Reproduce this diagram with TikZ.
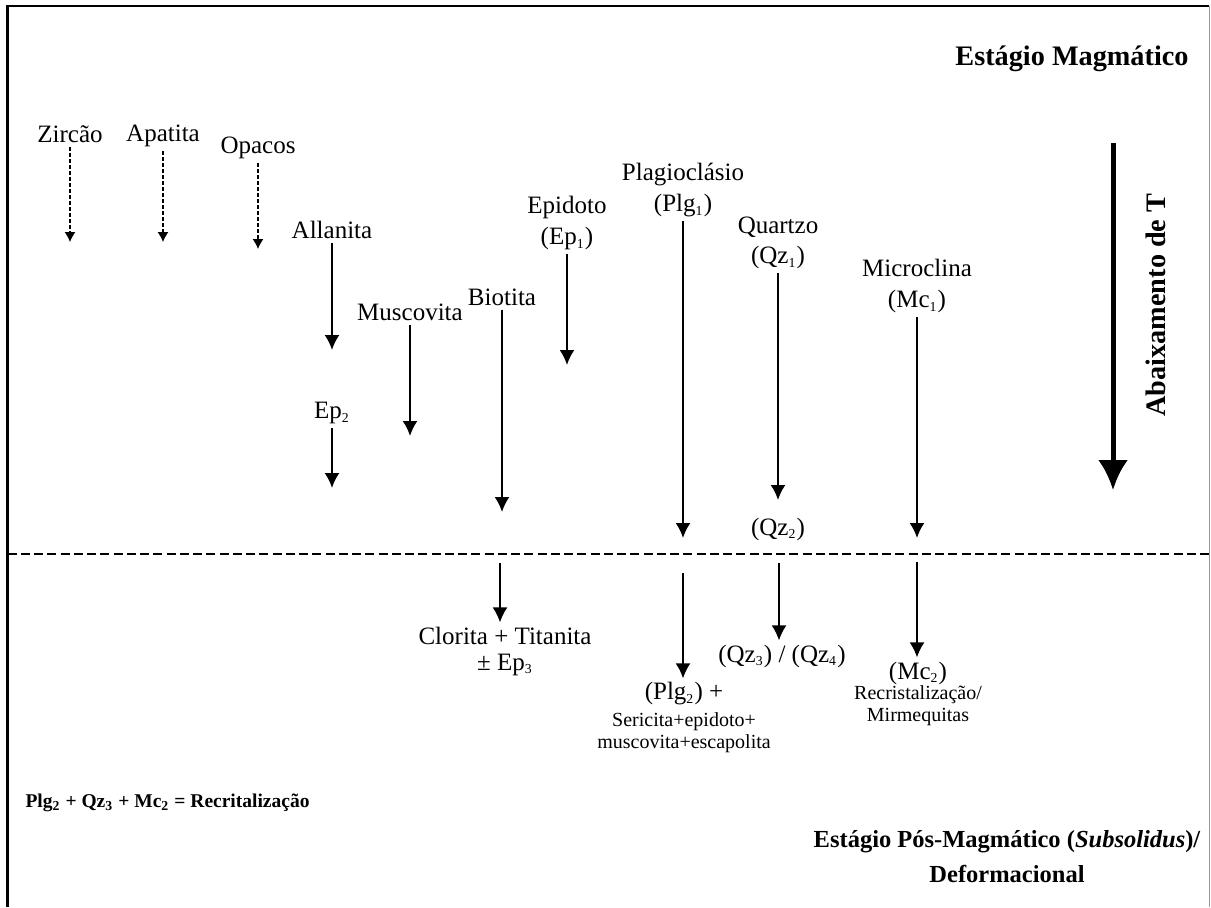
\documentclass[tikz,border=0pt]{standalone}
\usepackage{fontspec}
\setmainfont{Liberation Serif}
\usetikzlibrary{arrows.meta,positioning}
\newcommand{\indx}[1]{\textsubscript{\fontsize{5.5}{6}\selectfont #1}}

\begin{document}
\begin{tikzpicture}[x=0.4pt,y=-0.4pt]
\tikzstyle{mineral}=[font=\fontsize{10}{12.2}\selectfont, align=center, inner sep=1.5pt]
\tikzstyle{pequeno}=[font=\fontsize{8}{8.8}\selectfont, align=center, inner sep=1pt]
\tikzstyle{titulo}=[font=\bfseries\fontsize{11.3}{14}\selectfont, align=center, inner sep=0pt]
\tikzstyle{seta}=[-{Latex[width=6pt, length=6pt]}, line width=0.8pt]
\tikzstyle{tracejada}=[-{Latex[width=4.4pt, length=4pt]}, line width=0.5pt, dash pattern=on 1.6pt off 0.8pt]
\tikzstyle{grossa}=[-{Latex[width=12pt, length=12pt]}, line width=2pt]

  \useasboundingbox (0,0) rectangle (1211,907);

  % moldura
  \draw[line width=1pt] (7.5,907) -- (7.5,6) -- (1209,6);
  \draw[black!40, line width=0.4pt] (1209,6) -- (1209,907);
  \draw[line width=0.8pt, dash pattern=on 3.6pt off 1.7pt] (7.5,554) -- (1209,554);

  % estagio magmatico
  \node[titulo, anchor=east] (magmatico) at (1189,59) {Estágio Magmático};

  \node[mineral] (zircao)     at (70,134)  {Zircão};
  \node[mineral] (apatita)    at (163,136) {Apatita};
  \node[mineral] (opacos)     at (258,148) {Opacos};
  \node[mineral] (allanita)   at (332,230) {Allanita};
  \node[mineral] (ep2)        at (332,413) {Ep\indx{2}};
  \node[mineral] (muscovita)  at (410,312) {Muscovita};
  \node[mineral] (biotita)    at (502,297) {Biotita};
  \node[mineral] (epidoto)    at (567,223) {Epidoto\\(Ep\indx{1})};
  \node[mineral] (plagio)     at (683,190) {Plagioclásio\\(Plg\indx{1})};
  \node[mineral] (quartzo)    at (778,243) {Quartzo\\(Qz\indx{1})};
  \node[mineral] (microclina) at (917,286) {Microclina\\(Mc\indx{1})};
  \node[mineral] (qz2)        at (778,529) {(Qz\indx{2})};

  \coordinate (zircao-fim)     at (70,242);
  \coordinate (apatita-fim)    at (163,242);
  \coordinate (opacos-fim)     at (258,249);
  \coordinate (allanita-fim)   at (332,350);
  \coordinate (ep2-fim)        at (332,488);
  \coordinate (muscovita-fim)  at (410,436);
  \coordinate (biotita-fim)    at (502,512);
  \coordinate (epidoto-fim)    at (567,365);
  \coordinate (plagio-fim)     at (683,538);
  \coordinate (quartzo-fim)    at (778,500);
  \coordinate (microclina-fim) at (917,538);

  \draw[tracejada] (zircao)  -- (zircao-fim);
  \draw[tracejada] (apatita) -- (apatita-fim);
  \draw[tracejada] (opacos)  -- (opacos-fim);
  \draw[seta] (allanita)   -- (allanita-fim);
  \draw[seta] (ep2)        -- (ep2-fim);
  \draw[seta] (muscovita)  -- (muscovita-fim);
  \draw[seta] (biotita)    -- (biotita-fim);
  \draw[seta] (epidoto)    -- (epidoto-fim);
  \draw[seta] (plagio)     -- (plagio-fim);
  \draw[seta] (quartzo)    -- (quartzo-fim);
  \draw[seta] (microclina) -- (microclina-fim);

  % abaixamento de T
  \coordinate (t-inicio) at (1113,143);
  \coordinate (t-fim)    at (1113,490);
  \draw[grossa] (t-inicio) -- (t-fim);
  \node[titulo, rotate=90] (abaixamento) at (1156,305) {Abaixamento de T};

  % estagio pos-magmatico
  \node[mineral, font=\fontsize{10}{10.4}\selectfont] (clorita) at (505,651) {Clorita + Titanita\\± Ep\indx{3}};
  \node[mineral] (plg2)    at (684,694) {(Plg\indx{2}) +};
  \node[pequeno] (sericita) [below=0pt of plg2] {Sericita+epidoto+\\muscovita+escapolita};
  \node[mineral] (qz34)    at (782,656) {(Qz\indx{3}) / (Qz\indx{4})};
  \node[mineral] (mc2)     at (918,673) {(Mc\indx{2})};
  \node[pequeno] (recrist) [below=-2.5pt of mc2] {Recristalização/\\Mirmequitas};

  \coordinate (biotita-b)    at (500,563);
  \coordinate (plagio-b)     at (683,573);
  \coordinate (quartzo-b)    at (779,563);
  \coordinate (microclina-b) at (917,562);

  \draw[seta] (biotita-b)    -- (biotita-b |- clorita.north);
  \draw[seta] (plagio-b)     -- (plagio-b |- plg2.north);
  \draw[seta] (quartzo-b)    -- (quartzo-b |- qz34.north);
  \draw[seta] (microclina-b) -- (microclina-b |- mc2.north);

  \node[anchor=west, inner sep=0pt, font=\bfseries\fontsize{7.8}{9}\selectfont] (formula) at (25,803)
    {Plg\indx{2} + Qz\indx{3} + Mc\indx{2} = Recritalização};

  \node[titulo, font=\bfseries\fontsize{9.8}{14}\selectfont] (posmagmatico) at (1007,857)
    {Estágio Pós-Magmático (\textit{Subsolidus})/\\Deformacional};

\end{tikzpicture}
\end{document}
